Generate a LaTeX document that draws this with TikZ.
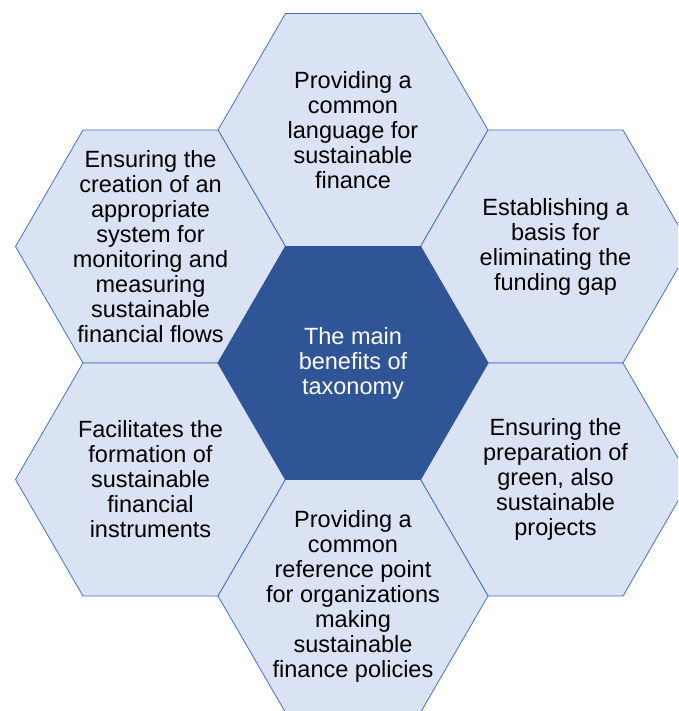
\documentclass[tikz,border=0pt]{standalone}
\usepackage{fontspec}
\setmainfont{Liberation Sans}
\definecolor{hexfill}{HTML}{DAE3F3}
\definecolor{hexline}{HTML}{4472C4}
\definecolor{hexdark}{HTML}{2F5597}
\newcommand\hexshape[1]{(#1) ++(-135,0) -- ++(67.5,-116.5) -- ++(135,0) -- ++(67.5,116.5) -- ++(-67.5,116.5) -- ++(-135,0) -- cycle}
\tikzset{
  lighthex/.style={fill=hexfill, draw=hexline, line width=0.8pt},
  darkhex/.style={fill=hexdark, draw=hexdark, line width=0.8pt},
  hextext/.style={align=center, inner sep=0pt, font=\fontsize{23.5}{25}\selectfont, text=black},
  centertext/.style={hextext, text=white}
}
\begin{document}
\begin{tikzpicture}[x=1pt, y=-1pt]
\useasboundingbox (0,0) rectangle (678,711);
\clip (0,0) rectangle (678,711);
\coordinate (cC)  at (353,363);
\coordinate (cT)  at (353,130);
\coordinate (cB)  at (353,596);
\coordinate (cTL) at (150.5,246.5);
\coordinate (cBL) at (150.5,479.5);
\coordinate (cTR) at (555.5,246.5);
\coordinate (cBR) at (555.5,479.5);
\draw[lighthex] \hexshape{cT};
\draw[lighthex] \hexshape{cTL};
\draw[lighthex] \hexshape{cTR};
\draw[lighthex] \hexshape{cBL};
\draw[lighthex] \hexshape{cBR};
\draw[lighthex] \hexshape{cB};
\draw[darkhex] \hexshape{cC};
\node[hextext] (tT) at (cT) {Providing a\\common\\language for\\sustainable\\finance};
\node[hextext] (tTL) at (cTL) {Ensuring the\\creation of an\\appropriate\\system for\\monitoring and\\measuring\\sustainable\\financial flows};
\node[hextext] (tTR) at (cTR) {Establishing a\\basis for\\eliminating the\\funding gap};
\node[hextext] (tBL) at (cBL) {Facilitates the\\formation of\\sustainable\\financial\\instruments};
\node[hextext] (tBR) at (cBR) {Ensuring the\\preparation of\\green, also\\sustainable\\projects};
\node[hextext] (tB) at (cB) {Providing a\\common\\reference point\\for organizations\\making\\sustainable\\finance policies};
\node[centertext] (tC) at (cC) {The main\\benefits of\\taxonomy};
\end{tikzpicture}
\end{document}
